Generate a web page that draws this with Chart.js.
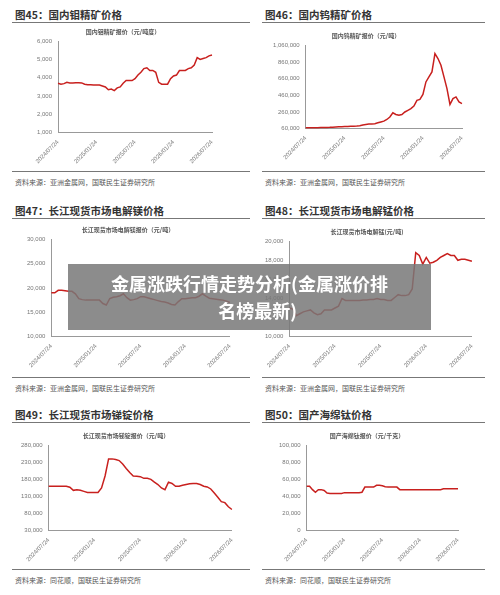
<!DOCTYPE html>
<html><head><meta charset="utf-8">
<script src="https://cdn.jsdelivr.net/npm/chart.js@4.4.1/dist/chart.umd.min.js"></script>
<style>
body{margin:0;background:#fff;font-family:"Noto Sans CJK SC",sans-serif;width:500px;height:595px;position:relative;overflow:hidden}
.t{position:absolute;font-size:10.5px;font-weight:bold;color:#333}
.ln{position:absolute;height:1px;background:#777}
.src{position:absolute;font-size:7px;color:#555}
.box{position:absolute}
#banner{position:absolute;left:68px;top:264px;width:363px;height:66px;background:rgba(120,120,120,0.85);color:#fff;font-weight:bold;font-size:18px;line-height:27px;text-align:center;padding-top:6px;box-sizing:border-box}
</style></head><body>
<div id="root"></div>
<div id="banner">金属涨跌行情走势分析(金属涨价排<br>&nbsp;&nbsp;&nbsp;&nbsp;名榜最新)</div>
<script>
const dates = ["2024/07/24","2025/01/24","2025/07/24","2026/01/24","2026/07/24"];
const labels = Array.from({length:53},(_,i)=> i%13===0 ? dates[i/13] : "");

const mo = [3700,3650,3680,3750,3720,3720,3730,3730,3720,3650,3620,3620,3610,3600,3600,3550,3500,3350,3380,3300,3450,3500,3700,3850,3850,3850,3950,4150,4300,4500,4550,4400,4400,4300,3750,3650,3650,3650,3950,4100,4150,4400,4400,4400,4500,4550,4700,5100,5000,5050,5100,5200,5250];
const w = [70000,70000,71000,72000,72000,73000,74000,75000,76000,78000,80000,82000,84000,85000,86000,88000,90000,92000,95000,105000,110000,115000,115000,120000,130000,140000,150000,170000,200000,250000,230000,220000,230000,260000,280000,300000,330000,400000,410000,470000,620000,680000,740000,960000,900000,820000,680000,540000,350000,420000,440000,380000,360000];
const mg = [19000,19000,19500,19500,19400,19300,19300,18800,17800,17600,17500,17500,17500,17500,17500,16800,16500,17800,18100,18200,18400,18800,18000,17500,17600,17800,18200,18200,18000,17800,17600,17400,17200,17100,16900,16600,16500,17200,17800,17800,17900,18000,18000,18300,18800,18300,17900,17800,17700,17600,17500,17300,17000];
const mn = [13000,12900,12200,12400,12600,12700,12800,12500,12300,12400,12800,12800,12800,13000,13200,14000,13800,13800,13800,13800,13800,13850,13850,13900,13900,14000,13900,13900,13800,13800,14100,14400,14300,14300,14400,15000,18800,18500,17600,18300,17700,17800,18000,18300,18500,18700,18500,18500,18000,18100,18100,18000,17900];
const sb = [160000,160000,160000,160000,160000,160000,157000,148000,150000,148000,145000,142000,142000,142000,142000,155000,190000,240000,240000,238000,235000,225000,212000,200000,190000,189000,188000,183000,183000,180000,172000,165000,155000,150000,172000,168000,160000,160000,163000,165000,167000,168000,168000,165000,160000,158000,152000,140000,128000,115000,112000,100000,92000];
const ti = [52000,52000,48000,45000,48000,48000,47000,44000,43500,43500,43500,43500,43500,44500,44500,44500,44500,44500,44500,45000,51000,51000,51000,51000,53000,53000,52500,51500,51000,51000,51000,51000,48000,48000,48000,48000,48000,48000,48000,48000,48000,48000,48000,48000,48000,48000,48000,49000,49000,49000,49000,49000,49000];

// box: left, top, width, height; pad: left, right, top, bottom
const panels = [
  {title:"图45：国内钼精矿价格", sub:"国内钼精矿报价（元/吨度）", src:"资料来源：亚洲金属网，国联民生证券研究所", data:mo, min:1000,max:6000,step:500, x:12,y:0,wd:238, box:[14,26,226,142], pad:[20,28,0,0]},
  {title:"图46：国内钨精矿价格", sub:"国内钨精矿报价（元/吨）", src:"资料来源：亚洲金属网，国联民生证券研究所", data:w, min:60000,max:1060000,step:200000, x:262,y:0,wd:223, box:[262,30,210,140], pad:[8,10,0,6]},
  {title:"图47：长江现货市场电解镁价格", sub:"长江现货市场电解镁报价（元/吨）", src:"资料来源：亚洲金属网，国联民生证券研究所", data:mg, min:10000,max:30000,step:5000, x:12,y:196,wd:238, box:[12,224,226,148], pad:[12,6,0,0]},
  {title:"图48：长江现货市场电解锰价格", sub:"长江现货市场电解锰(元/吨)", src:"资料来源：亚洲金属网，国联民生证券研究所", data:mn, min:10000,max:20000,step:2000, x:262,y:196,wd:223, box:[262,226,218,146], pad:[0,8,0,0]},
  {title:"图49：长江现货市场锑锭价格", sub:"长江现货市场锑锭报价（元/吨）", src:"资料来源：同花顺，国联民生证券研究所", data:sb, min:30000,max:280000,step:50000, x:12,y:400,wd:238, box:[10,430,230,136], pad:[8,6,0,0]},
  {title:"图50：国产海绵钛价格", sub:"国产海绵钛报价（元/千克）", src:"资料来源：同花顺，国联民生证券研究所", data:ti, min:0,max:100000,step:20000, x:262,y:400,wd:223, box:[262,430,210,136], pad:[14,14,0,0]}
];

const root = document.getElementById("root");
panels.forEach(p => {
  const bottom = p.y===400 ? 569 : (p.y===196 ? 377 : 171);
  root.insertAdjacentHTML("beforeend",
    `<div class="t" style="left:${p.x+3}px;top:${p.y+7}px">${p.title}</div>
     <div class="ln" style="left:${p.x}px;top:${p.y+22}px;width:${p.wd}px"></div>
     <div class="ln" style="left:${p.x}px;top:${bottom}px;width:${p.wd}px"></div>
     <div class="src" style="left:${p.x+3}px;top:${bottom+6}px">${p.src}</div>
     <div class="box" style="left:${p.box[0]}px;top:${p.box[1]}px;width:${p.box[2]}px;height:${p.box[3]}px"><canvas></canvas></div>`);
  const cv = root.lastElementChild.querySelector("canvas");
  new Chart(cv, {
    type:"line",
    data:{labels, datasets:[{data:p.data, borderColor:"#c8201e", borderWidth:1.5, pointRadius:0, tension:0}]},
    options:{
      responsive:true, maintainAspectRatio:false, animation:false,
      layout:{padding:{left:p.pad[0], right:p.pad[1], top:p.pad[2], bottom:p.pad[3]}},
      plugins:{legend:{display:false}, tooltip:{enabled:false},
        title:{display:true, text:p.sub, color:"#555", font:{size:6, family:"Noto Sans CJK SC"}, padding:{top:2,bottom:6}}},
      scales:{
        x:{grid:{display:false, drawTicks:true, tickLength:3, tickColor:"#999"}, border:{color:"#999"},
           ticks:{autoSkip:false, maxRotation:45, minRotation:45, color:"#777", font:{size:6}, callback:(v,i)=>labels[i]}},
        y:{min:p.min, max:p.max, grid:{display:false, tickLength:3}, border:{color:"#999"},
           ticks:{stepSize:p.step, color:"#777", font:{size:6}, callback:v=>v.toLocaleString("en-US")}}
      }
    }
  });
});
</script>
</body></html>
